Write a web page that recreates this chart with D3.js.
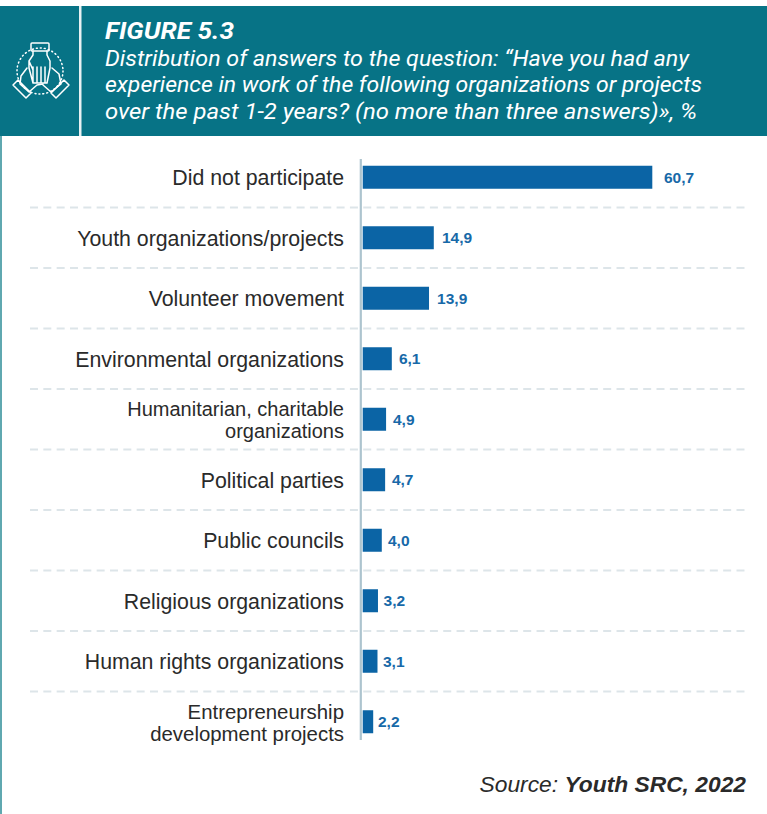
<!DOCTYPE html>
<html><head><meta charset="utf-8">
<script src="https://cdn.jsdelivr.net/npm/d3@7"></script>
<style>html,body{margin:0;padding:0;background:#fff}svg{display:block}</style>
</head><body><svg id="c" width="767" height="814"></svg>
<script>
const categories=[["Did not participate"],["Youth organizations/projects"],["Volunteer movement"],["Environmental organizations"],["Humanitarian, charitable","organizations"],["Political parties"],["Public councils"],["Religious organizations"],["Human rights organizations"],["Entrepreneurship","development projects"]];
const values=[60.7,14.9,13.9,6.1,4.9,4.7,4.0,3.2,3.1,2.2];
const valueLabels=["60,7","14,9","13,9","6,1","4,9","4,7","4,0","3,2","3,1","2,2"];
const titleLines=["Distribution of answers to the question: “Have you had any","experience in work of the following organizations or projects","over the past 1-2 years? (no more than three answers)», %"];
const titleWidths=[584,597,592];
const labelSizes=[21.3,21.3,21.3,21.3,20,21.3,21.3,21.3,21.3,20.4];
const svg=d3.select("#c");
const font="Liberation Sans, Arial, sans-serif";
const x=d3.scaleLinear().domain([0,60.7]).range([362.7,652.3]);
const xLabel=d3.scaleLinear().domain([2.2,4.9,14.9,60.7]).range([378,393,442,664]);
const y=d3.scaleBand().domain(d3.range(10)).range([147,752]).paddingInner(0);
const cy=i=>y(i)+y.bandwidth()/2;
// page
svg.append("rect").attr("x",0).attr("y",136).attr("width",2).attr("height",678).attr("fill","#5fa8b0");
svg.append("rect").attr("x",0).attr("y",6).attr("width",767).attr("height",130).attr("fill","#077386");
svg.append("rect").attr("x",79).attr("y",6).attr("width",2.5).attr("height",130).attr("fill","#e8f1f3");
svg.append("text").attr("x",105).attr("y",39).attr("fill","#fff").attr("font-family","Roboto").attr("font-style","italic").attr("font-weight",700).attr("font-size",23).attr("textLength",129).attr("lengthAdjust","spacingAndGlyphs").text("FIGURE 5.3");
svg.selectAll(".t").data(titleLines).join("text").attr("x",105).attr("y",(d,i)=>66+i*26.3).attr("fill","#fff").attr("font-family","Roboto").attr("font-style","italic").attr("font-size",22.5).attr("textLength",(d,i)=>titleWidths[i]).attr("lengthAdjust","spacingAndGlyphs").text(d=>d);
// icon
const ic=svg.append("g").attr("fill","none").attr("stroke","#fff").attr("stroke-width",1.5).attr("stroke-linejoin","round").attr("stroke-linecap","round");
ic.append("circle").attr("cx",40).attr("cy",71).attr("r",23).attr("stroke-dasharray","1 3");
ic.append("rect").attr("x",31).attr("y",43).attr("width",18).attr("height",8).attr("rx",1);
ic.append("path").attr("d","M33 51V55L29 61V68L33 83H47L50 68V61L47 55V51M33 83V67M37 83V67M41 83V67M45 83V67M29 61L33 70");
ic.append("path").attr("d","M27 68L21 76L20 84L29 92L37 85L43 84M52 68L59 74L61 84L51 92L43 85");
ic.append("path").attr("d","M13 85L26 98L31 93L18 80ZM69 85L56 98L51 93L64 80Z");
// grid
svg.selectAll(".g").data(d3.range(1,10)).join("line").attr("x1",30).attr("x2",746).attr("y1",i=>y(i)).attr("y2",i=>y(i)).attr("stroke","#dde5e9").attr("stroke-width",2.2).attr("stroke-dasharray","8 5.33");
// axis
svg.append("line").attr("x1",360.8).attr("x2",360.8).attr("y1",159).attr("y2",740).attr("stroke","#adc4cf").attr("stroke-width",2.2);
// bars
svg.selectAll(".b").data(values).join("rect").attr("x",x(0)).attr("y",(d,i)=>cy(i)-11.5).attr("width",d=>x(d)-x(0)).attr("height",23).attr("fill","#0b64a5");
svg.selectAll(".v").data(values).join("text").attr("x",d=>xLabel(d)).attr("y",(d,i)=>cy(i)+5.5).attr("fill","#1769a8").attr("font-family",font).attr("font-weight",700).attr("font-size",15.5).text((d,i)=>valueLabels[i]);
// labels
categories.forEach((lines,i)=>{
 const t=svg.append("text").attr("text-anchor","end").attr("fill","#2a2a2a").attr("font-family",font).attr("font-size",labelSizes[i]);
 lines.forEach((s,j)=>t.append("tspan").attr("x",344).attr("y",cy(i)+8-(lines.length-1)*11+j*22).text(s));
});
// source
const s=svg.append("text").attr("x",746).attr("y",792).attr("text-anchor","end").attr("fill","#2a2a2a").attr("font-family",font).attr("font-style","italic").attr("font-size",22.8);
s.append("tspan").text("Source: ");
s.append("tspan").attr("font-weight",700).text("Youth SRC, 2022");
</script></body></html>
